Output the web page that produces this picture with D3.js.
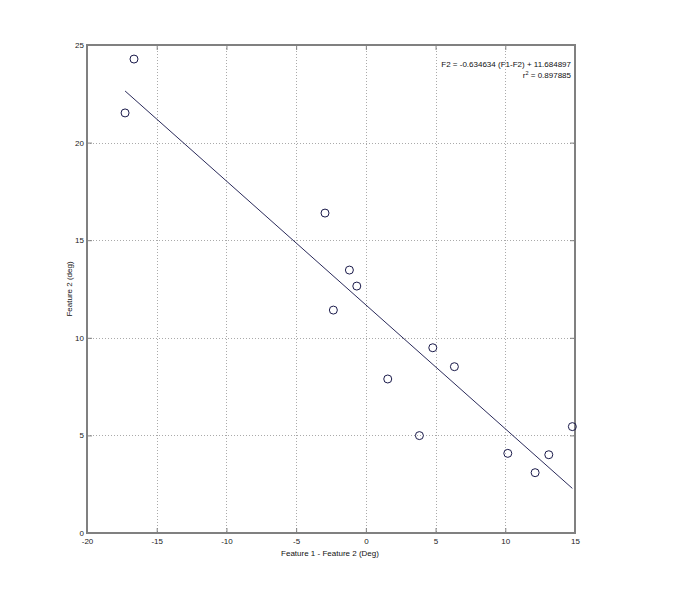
<!DOCTYPE html>
<html><head><meta charset="utf-8">
<script src="https://cdn.jsdelivr.net/npm/d3@7"></script>
<style>body{margin:0;background:#fff}svg{display:block}text{font-family:"Liberation Sans",Arial,sans-serif}</style>
</head><body>
<script>
const xVals = [-17.27, -16.63, -2.93, -1.18, -0.65, -2.33, 4.8, 6.35, 1.57, 3.84, 14.81, 10.18, 13.12, 12.14];
const yVals = [21.52, 24.28, 16.39, 13.47, 12.65, 11.42, 9.49, 8.52, 7.89, 4.99, 5.45, 4.08, 4.01, 3.09];
const slope = -0.634634, intercept = 11.684897;
const xTicks = [-20, -15, -10, -5, 0, 5, 10, 15];
const yTicks = [0, 5, 10, 15, 20, 25];
const eqText = "F2 = -0.634634 (F1-F2) + 11.684897";
const r2Value = "0.897885";
const xLabel = "Feature 1 - Feature 2 (Deg)";
const yLabel = "Feature 2 (deg)";

const W = 678, H = 600;
const L = 87, R = 575, T = 45, B = 533;
const FS = 8;
const svg = d3.select("body").append("svg").attr("width", W).attr("height", H);
const x = d3.scaleLinear().domain([-20, 15]).range([L, R]);
const y = d3.scaleLinear().domain([0, 25]).range([B, T]);

// grid
const grid = svg.append("g").attr("stroke", "#aaa").attr("stroke-width", 1).attr("stroke-dasharray", "1,2");
grid.selectAll(".gx").data(xTicks.slice(1, -1)).join("line")
  .attr("x1", d => Math.round(x(d)) + 0.5).attr("x2", d => Math.round(x(d)) + 0.5).attr("y1", T).attr("y2", B);
grid.selectAll(".gy").data(yTicks.slice(1, -1)).join("line")
  .attr("y1", d => Math.round(y(d)) + 0.5).attr("y2", d => Math.round(y(d)) + 0.5).attr("x1", L).attr("x2", R);

// axes with inward ticks
const axColor = "#808080";
const fmt = d => String(d);
function styleAxis(g) {
  g.select(".domain").remove();
  g.selectAll(".tick line").attr("stroke", axColor).attr("stroke-width", 1);
  g.selectAll(".tick text").attr("fill", "#222").attr("font-size", FS);
}
svg.append("g").attr("transform", `translate(0,${B})`)
  .call(d3.axisBottom(x).tickValues(xTicks).tickSize(-5).tickPadding(5).tickFormat(fmt))
  .call(styleAxis);
svg.append("g").attr("transform", `translate(0,${T})`)
  .call(d3.axisTop(x).tickValues(xTicks).tickSize(-5).tickFormat(""))
  .call(styleAxis);
svg.append("g").attr("transform", `translate(${L},0)`)
  .call(d3.axisLeft(y).tickValues(yTicks).tickSize(-5).tickPadding(3).tickFormat(fmt))
  .call(styleAxis);
svg.append("g").attr("transform", `translate(${R},0)`)
  .call(d3.axisRight(y).tickValues(yTicks).tickSize(-5).tickFormat(""))
  .call(styleAxis);

// box
svg.append("rect").attr("x", L).attr("y", T).attr("width", R - L).attr("height", B - T)
  .attr("fill", "none").attr("stroke", axColor).attr("stroke-width", 2);

// fit line
const xmin = d3.min(xVals), xmax = d3.max(xVals);
svg.append("line")
  .attr("x1", x(xmin)).attr("y1", y(slope * xmin + intercept))
  .attr("x2", x(xmax)).attr("y2", y(slope * xmax + intercept))
  .attr("stroke", "#2a2a5a").attr("stroke-width", 1);

// points
svg.append("g").selectAll("circle").data(xVals).join("circle")
  .attr("cx", (d) => x(d)).attr("cy", (d, i) => y(yVals[i])).attr("r", 4)
  .attr("fill", "none").attr("stroke", "#1a1a4a").attr("stroke-width", 1);

// annotation
svg.append("text").attr("x", 571).attr("y", 67).attr("text-anchor", "end")
  .attr("font-size", FS).attr("fill", "#111").text(eqText);
const r2 = svg.append("text").attr("x", 571).attr("y", 78).attr("text-anchor", "end")
  .attr("font-size", FS).attr("fill", "#111");
r2.append("tspan").text("r");
r2.append("tspan").attr("font-size", 5.5).attr("dy", -3.5).text("2");
r2.append("tspan").attr("dy", 3.5).text(" = " + r2Value);

// axis labels
svg.append("text").attr("x", 330).attr("y", 556).attr("text-anchor", "middle")
  .attr("font-size", FS).attr("fill", "#111").text(xLabel);
svg.append("text").attr("transform", `translate(71.5,${(T + B) / 2}) rotate(-90)`).attr("text-anchor", "middle")
  .attr("font-size", FS).attr("fill", "#111").text(yLabel);
</script>
</body></html>
